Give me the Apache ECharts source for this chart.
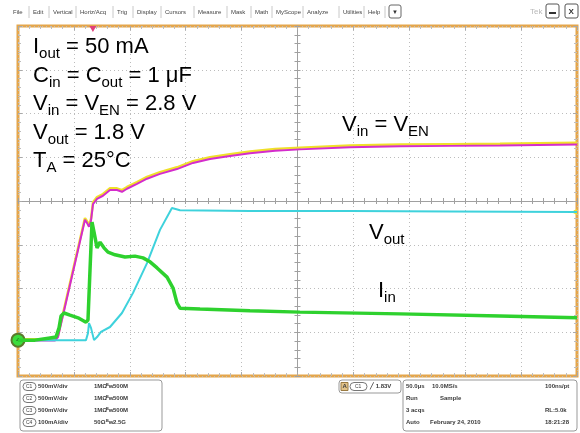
<!DOCTYPE html>
<html>
<head>
<meta charset="utf-8">
<title>LDO start-up scope capture</title>
<script src="https://cdn.jsdelivr.net/npm/echarts@6/dist/echarts.min.js"></script>
<style>
html, body { margin: 0; padding: 0; background: #fff; }
#chart { width: 580px; height: 433px; }
</style>
</head>
<body>
<div id="chart"></div>
<script>
// time in us (50 us/div, 10 div across), levels in screen divisions (0 = centre line)
const vinTime = [-250, -216.9, -214.2, -190.1, -188.3, -186.5, -184.7, -182.9, -179.3, -174.0, -167.7, -161.5, -157.0, -152.5, -143.6, -134.6, -123.0, -107.8, -93.5, -78.3, -60.4, -42.5, -20.1, 2.2, 47.0, 91.7, 136.4, 181.1, 250];
const vinLevel = [-3.16, -3.16, -3.07, -0.39, -0.46, -0.55, -0.41, -0.03, 0.09, 0.16, 0.29, 0.29, 0.25, 0.32, 0.43, 0.55, 0.66, 0.77, 0.91, 1.0, 1.07, 1.13, 1.19, 1.22, 1.27, 1.29, 1.30, 1.31, 1.33];
const venLevel = [-3.19, -3.19, -3.11, -0.43, -0.50, -0.59, -0.45, -0.07, 0.05, 0.12, 0.25, 0.25, 0.21, 0.28, 0.39, 0.51, 0.62, 0.73, 0.87, 0.96, 1.03, 1.09, 1.15, 1.18, 1.23, 1.25, 1.26, 1.27, 1.29];

const voutTime = [-250, -189.2, -187.4, -186.5, -184.7, -182.0, -179.3, -175.8, -167.7, -157.0, -147.1, -134.6, -123.0, -112.3, -105.1, -42.5, 47.0, 136.4, 250];
const voutLevel = [-3.18, -3.18, -3.02, -2.79, -2.90, -3.18, -3.11, -2.99, -2.88, -2.56, -2.10, -1.42, -0.66, -0.16, -0.21, -0.23, -0.23, -0.24, -0.25];

const iinTime = [-250, -234.8, -221.4, -216.0, -213.3, -211.5, -208.8, -203.5, -196.3, -189.2, -187.4, -185.6, -183.8, -182.0, -179.3, -176.6, -173.1, -169.5, -163.2, -154.3, -145.4, -138.2, -131.9, -125.6, -116.7, -111.3, -107.8, -105.1, -87.2, -42.5, 2.2, 91.7, 181.1, 250];
const iinLevel = [-3.18, -3.18, -3.13, -3.11, -2.90, -2.63, -2.56, -2.61, -2.67, -2.77, -2.72, -1.58, -0.48, -0.71, -1.07, -0.94, -1.07, -1.17, -1.23, -1.28, -1.26, -1.30, -1.39, -1.53, -1.74, -1.99, -2.33, -2.45, -2.47, -2.51, -2.54, -2.58, -2.63, -2.67];

const groundMark = [-250, -3.18];
const triggerTime = -183;
const triggerLevel = -0.25;

// scope UI text
const menuItems = ['File', 'Edit', 'Vertical', 'Horiz/Acq', 'Trig', 'Display', 'Cursors', 'Measure', 'Mask', 'Math', 'MyScope', 'Analyze', 'Utilities', 'Help'];
const menuPosX = [13, 33, 53, 80, 117, 137, 165, 198, 231, 255, 276, 307, 343, 368];
const chanNames = ['C1', 'C2', 'C3', 'C4'];
const chanScales = ['500mV/div', '500mV/div', '500mV/div', '100mA/div'];
const chanImped = ['1MΩ', '1MΩ', '1MΩ', '50Ω'];
const chanBw = ['500M', '500M', '500M', '2.5G'];
const acqRows = [
  ['50.0µs', '10.0MS/s', '100ns/pt'],
  ['Run', 'Sample', ''],
  ['3 acqs', '', 'RL:5.0k'],
  ['Auto', 'February 24, 2010', '18:21:28']
];

const FONT = '"Liberation Sans", Arial, Helvetica, sans-serif';
const chart = echarts.init(document.getElementById('chart'));

function pairs(t, v) {
  return t.map((x, i) => [x, v[i]]);
}

function small(text, x, y, extra) {
  return Object.assign({
    type: 'text', x: x, y: y, silent: true,
    style: { text: text, font: 'bold 6px ' + FONT, fill: '#3a3a3a', verticalAlign: 'middle' }
  }, extra || {});
}

const richMain = { fontSize: 22, lineHeight: 28.5, fontFamily: FONT, color: '#111' };
const richSub = { fontSize: 15, lineHeight: 17, fontFamily: FONT, color: '#111', verticalAlign: 'bottom' };

function label(text, x, y) {
  return {
    type: 'text', x: x, y: y, silent: true, z: 20,
    style: { text: text, verticalAlign: 'top', rich: { m: richMain, s: richSub } }
  };
}

const graphics = [];

// menu bar
menuItems.forEach((name, i) => {
  graphics.push(small(name, menuPosX[i], 12, { style: { text: name, font: '6px ' + FONT, fill: '#444', verticalAlign: 'middle' } }));
  if (i > 0) {
    graphics.push({ type: 'line', silent: true, shape: { x1: menuPosX[i] - 4, y1: 6, x2: menuPosX[i] - 4, y2: 18 }, style: { stroke: '#c8c8c8', lineWidth: 1 } });
  }
});
graphics.push({ type: 'line', silent: true, shape: { x1: 385, y1: 6, x2: 385, y2: 18 }, style: { stroke: '#c8c8c8' } });
graphics.push({ type: 'rect', silent: true, shape: { x: 389, y: 5, width: 12, height: 13, r: 2 }, style: { fill: '#fff', stroke: '#666' } });
graphics.push(small('▼', 392, 12, { style: { text: '▼', font: '6px ' + FONT, fill: '#333', verticalAlign: 'middle' } }));
graphics.push(small('Tek', 530, 12, { style: { text: 'Tek', font: '8px ' + FONT, fill: '#b8b8b8', verticalAlign: 'middle' } }));
graphics.push({ type: 'rect', silent: true, shape: { x: 546, y: 4, width: 13, height: 14, r: 2 }, style: { fill: '#fff', stroke: '#555' } });
graphics.push({ type: 'line', silent: true, shape: { x1: 549, y1: 13, x2: 556, y2: 13 }, style: { stroke: '#333', lineWidth: 2 } });
graphics.push({ type: 'rect', silent: true, shape: { x: 565, y: 4, width: 13, height: 14, r: 2 }, style: { fill: '#fff', stroke: '#555' } });
graphics.push(small('X', 568.5, 11.5, { style: { text: 'X', font: 'bold 8px ' + FONT, fill: '#333', verticalAlign: 'middle' } }));

// channel panel
graphics.push({ type: 'rect', silent: true, shape: { x: 20, y: 380, width: 142, height: 51, r: 3 }, style: { fill: '#fff', stroke: '#999' } });
chanNames.forEach((c, i) => {
  const y = 386.5 + i * 12;
  graphics.push({ type: 'rect', silent: true, shape: { x: 23, y: y - 4, width: 13, height: 8, r: 4 }, style: { fill: '#fff', stroke: '#777' } });
  graphics.push(small(c, 26, y, { style: { text: c, font: '5px ' + FONT, fill: '#444', verticalAlign: 'middle' } }));
  graphics.push(small(chanScales[i], 38, y));
  graphics.push(small(chanImped[i], 94, y));
  graphics.push(small('ᴮw', 106, y));
  graphics.push(small(chanBw[i], 113, y));
});

// trigger panel
graphics.push({ type: 'rect', silent: true, shape: { x: 339, y: 380, width: 62, height: 13, r: 3 }, style: { fill: '#fff', stroke: '#999' } });
graphics.push({ type: 'rect', silent: true, shape: { x: 341, y: 382.5, width: 7, height: 8 }, style: { fill: '#e2c38a', stroke: '#9a7a40' } });
graphics.push(small('A', 342.5, 386.5));
graphics.push({ type: 'rect', silent: true, shape: { x: 350, y: 382.5, width: 17, height: 8, r: 4 }, style: { fill: '#fff', stroke: '#777' } });
graphics.push(small('C1', 355, 386.5, { style: { text: 'C1', font: '5px ' + FONT, fill: '#444', verticalAlign: 'middle' } }));
graphics.push(small('╱ 1.83V', 370, 386.5));

// acquisition panel
graphics.push({ type: 'rect', silent: true, shape: { x: 403, y: 380, width: 174, height: 51, r: 3 }, style: { fill: '#fff', stroke: '#999' } });
const acqColX = [[406, 432, 545], [406, 440, 545], [406, 440, 545], [406, 430, 545]];
acqRows.forEach((row, i) => {
  row.forEach((t, j) => {
    if (t) graphics.push(small(t, acqColX[i][j], 386.5 + i * 12));
  });
});

// annotations
graphics.push(label(
  '{m|I}{s|out}{m| = 50 mA}\n' +
  '{m|C}{s|in}{m| = C}{s|out}{m| = 1 μF}\n' +
  '{m|V}{s|in}{m| = V}{s|EN}{m| = 2.8 V}\n' +
  '{m|V}{s|out}{m| = 1.8 V}\n' +
  '{m|T}{s|A}{m| = 25°C}', 33, 33));
graphics.push(label('{m|V}{s|in}{m| = V}{s|EN}', 342, 111));
graphics.push(label('{m|V}{s|out}', 369, 219));
graphics.push(label('{m|I}{s|in}', 378, 277));

const edgeTick = { show: true, inside: true, length: 4, lineStyle: { color: '#a9a9a9' } };
const edgeMinor = { show: true, splitNumber: 5, length: 3, lineStyle: { color: '#bdbdbd' } };
const midTick = { show: true, inside: false, length: 3, lineStyle: { color: '#a0a0a0' } };
const midMinor = { show: true, splitNumber: 5, length: 3, lineStyle: { color: '#a0a0a0' } };
const dotted = { show: true, lineStyle: { color: '#bcbcbc', type: [1, 3], width: 1 } };

function xAx(grid, pos, onZero, tick, minor, split) {
  return {
    gridIndex: grid, type: 'value', min: -250, max: 250, interval: 50, position: pos,
    axisLine: { show: onZero, onZero: onZero, lineStyle: { color: '#a0a0a0', width: 1 } },
    axisTick: tick, minorTick: minor, axisLabel: { show: false },
    splitLine: split || { show: false }
  };
}
function yAx(grid, pos, onZero, tick, minor, split) {
  return {
    gridIndex: grid, type: 'value', min: -4, max: 4, interval: 1, position: pos,
    axisLine: { show: onZero, onZero: onZero, lineStyle: { color: '#a0a0a0', width: 1 } },
    axisTick: tick, minorTick: minor, axisLabel: { show: false },
    splitLine: split || { show: false }
  };
}

const gridBox = { left: 18, right: 3, top: 26, bottom: 57 };

const option = {
  animation: false,
  backgroundColor: '#fff',
  grid: [
    Object.assign({ show: true, borderColor: '#e4a64c', borderWidth: 3, backgroundColor: '#fff' }, gridBox),
    Object.assign({ show: false }, gridBox)
  ],
  xAxis: [
    xAx(0, 'bottom', false, edgeTick, edgeMinor, dotted),
    xAx(0, 'top', false, edgeTick, edgeMinor),
    xAx(1, 'bottom', true, midTick, midMinor),
    xAx(1, 'top', true, midTick, midMinor)
  ],
  yAxis: [
    yAx(0, 'left', false, edgeTick, edgeMinor, dotted),
    yAx(0, 'right', false, edgeTick, edgeMinor),
    yAx(1, 'left', true, midTick, midMinor),
    yAx(1, 'right', true, midTick, midMinor)
  ],
  series: [
    {
      name: 'Vin', type: 'line', xAxisIndex: 0, yAxisIndex: 0, symbol: 'none', z: 3,
      data: pairs(vinTime, vinLevel),
      lineStyle: { color: '#f0e02a', width: 2.5 },
      markPoint: {
        silent: true, label: { show: false },
        data: [
          { coord: [triggerTime, 4], symbol: 'triangle', symbolRotate: 180, symbolSize: [7, 6], symbolOffset: [0, 3], itemStyle: { color: '#e0407a' } },
          { coord: [250, triggerLevel], symbol: 'triangle', symbolRotate: 90, symbolSize: [6, 6], symbolOffset: [-3, 0], itemStyle: { color: '#f0e02a' } }
        ]
      }
    },
    {
      name: 'VEN', type: 'line', xAxisIndex: 0, yAxisIndex: 0, symbol: 'none', z: 4,
      data: pairs(vinTime, venLevel),
      lineStyle: { color: '#d42ccc', width: 2 }
    },
    {
      name: 'Vout', type: 'line', xAxisIndex: 0, yAxisIndex: 0, symbol: 'none', z: 5,
      data: pairs(voutTime, voutLevel),
      lineStyle: { color: '#3ed2dc', width: 2 }
    },
    {
      name: 'Iin', type: 'line', xAxisIndex: 0, yAxisIndex: 0, symbol: 'none', z: 6,
      data: pairs(iinTime, iinLevel),
      lineStyle: { color: '#2ed12e', width: 3.5 },
      markPoint: {
        silent: true,
        data: [{ coord: groundMark, symbol: 'circle', symbolSize: 13 }],
        itemStyle: { color: '#3cdc3c', borderColor: '#5a7a2a', borderWidth: 2 },
        label: { show: true, formatter: '4', fontSize: 6, color: '#1a4a1a', fontFamily: FONT }
      }
    }
  ],
  graphic: graphics
};

chart.setOption(option);
</script>
</body>
</html>
